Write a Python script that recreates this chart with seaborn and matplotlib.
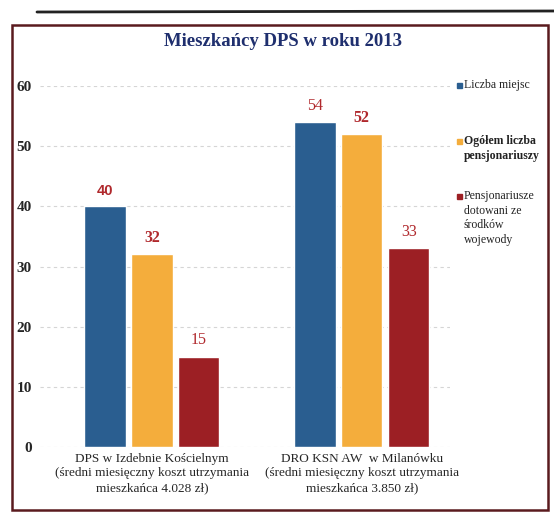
import pandas as pd
import matplotlib.pyplot as plt
import seaborn as sns
from matplotlib.patches import Rectangle
from matplotlib.lines import Line2D

# data
places = ['DPS w Izdebnie Kościelnym\n(średni miesięczny koszt utrzymania\nmieszkańca 4.028 zł)',
          'DRO KSN AW  w Milanówku\n(średni miesięczny koszt utrzymania\nmieszkańca 3.850 zł)']
series = ['Liczba miejsc', 'Ogółem liczba\npensjonariuszy',
          'Pensjonariusze\ndotowani ze\nśrodków\nwojewody']
liczba_miejsc = [40, 54]
ogolem = [32, 52]
dotowani = [15, 33]
colors = ['#2a5e90', '#f4ad3c', '#9c1f24']

df = pd.DataFrame({
    'place': places * 3,
    'series': [series[0]] * 2 + [series[1]] * 2 + [series[2]] * 2,
    'value': liczba_miejsc + ogolem + dotowani,
})

sns.set_theme(style="white")
plt.rcParams['font.family'] = ['Liberation Serif', 'DejaVu Serif']

fig = plt.figure(figsize=(5.54, 5.19), dpi=100)
ax = fig.add_axes([40 / 554, 1 - 447 / 519, 410 / 554, 361 / 519])

sns.barplot(ax=ax, data=df, x='place', y='value', hue='series',
            palette=colors, width=0.67, gap=0.12, saturation=1, legend=False)

ax.set_ylim(0, 60)
ax.set_xlim(-0.533, 1.42)
ax.set_yticks(range(0, 61, 10))
ax.set_xlabel('')
ax.set_ylabel('')
for s in ax.spines.values():
    s.set_visible(False)
ax.yaxis.grid(True, color='#d5d5d5', linestyle=(0, (3, 3)), lw=0.8)
ax.set_axisbelow(True)
ax.tick_params(axis='y', length=0, pad=6, labelsize=11)
ax.tick_params(axis='x', length=0, pad=4, labelsize=9.5)
for t in ax.get_yticklabels():
    t.set_fontweight('bold')
for t in ax.get_xticklabels():
    t.set_linespacing(1.3)

# value labels
label_weights = ['normal', 'bold', 'normal']
for i, cont in enumerate(ax.containers):
    texts = ax.bar_label(cont, padding=6, color='#b0282c', fontsize=11.5)
    for t in texts:
        t.set_fontweight(label_weights[i])
ax.texts[0].set_fontfamily(['Liberation Sans', 'DejaVu Sans'])
ax.texts[0].set_fontweight('bold')
ax.texts[0].set_fontsize(10.5)

# legend: small square beside the first line of each entry
legend_tops = [85, 141, 196]
for i, lab in enumerate(series):
    y = 1 - legend_tops[i] / 519
    fig.patches.append(Rectangle((457 / 554, y - 3 / 519), 5 / 554, 5 / 519,
                                 transform=fig.transFigure, color=colors[i]))
    fig.text(464 / 554, y + 6 / 519, lab, ha='left', va='top', fontsize=8.5,
             linespacing=1.3, fontweight='bold' if i == 1 else 'normal',
             color='#222222')

fig.text(283 / 554, 1 - 42 / 519, 'Mieszkańcy DPS w roku 2013', ha='center',
         va='center', fontsize=13.5, fontweight='bold', color='#1f2f6e')

# frame round the chart and the line above it
fig.patches.append(Rectangle((12 / 554, 1 - 510 / 519), 536 / 554, 485 / 519,
                             transform=fig.transFigure, fill=False,
                             edgecolor='#5a1a1e', lw=1.8))
fig.lines.append(Line2D([37 / 554, 1], [1 - 12 / 519, 1 - 11 / 519],
                        transform=fig.transFigure, color='#222222', lw=2))

fig.savefig('out.png', dpi=100)
